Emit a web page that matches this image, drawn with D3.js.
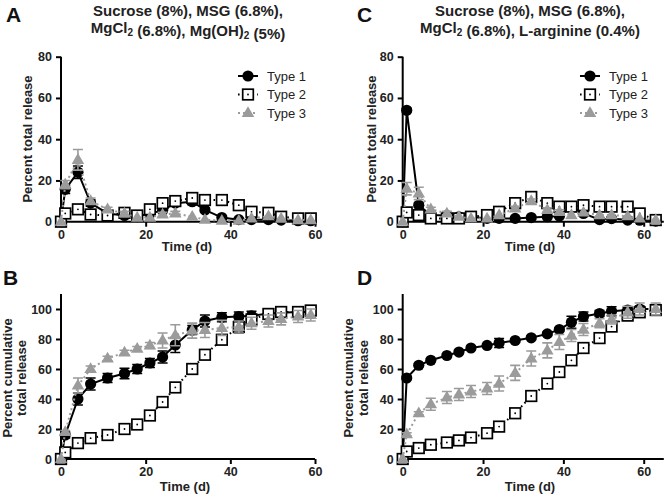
<!DOCTYPE html>
<html><head><meta charset="utf-8">
<script src="https://cdn.jsdelivr.net/npm/d3@7"></script>
<style>
body{margin:0;background:#fff;}
svg{display:block;font-family:"Liberation Sans",Arial,sans-serif;}
</style></head>
<body><svg id="c" width="664" height="498"></svg>
<script>
// ---------- DATA ----------
const timeAB = [0,1,4,7,11,15,18,21,24,27,31,34,38,42,45,49,52,56,59];
const timeCD = [0,1,4,7,11,14,17,21,24,28,32,36,39,42,45,49,52,56,59,63];
const seriesNames = ["Type 1","Type 2","Type 3"];

const type1A = [0,15.7,24,9,4,3,2.5,4,5.5,9,9.7,5.7,2,1,1,1,0.8,0.5,0.5];
const type1AErr = [0,2,3,1.5,1,1,0.5,1,1,1.5,1.5,1,0.5,0.5,0.5,0.5,0.5,0.5,0.5];
const type2A = [0,4,6,3.5,3,4.3,3,6,9,10,11.5,10.5,10.5,8,4.8,4.3,2.4,1.6,1.6];
const type2AErr = [0,0.5,0.5,0.5,0.5,0.5,0.5,0.5,0.5,0.5,0.5,0.5,0.5,0.5,0.5,0.5,0.5,0.5,0.5];
const type3A = [0,18,30,10,6,4,2,2,3.5,4,2.4,1,0.5,0.5,1.6,2.7,1.5,0.8,0.8];
const type3AErr = [0,2,5,1.5,1,1,0.5,0.5,1,1,0.5,0.5,0.5,0.5,0.5,0.5,0.5,0.5,0.5];

const type1B = [0,16,40,50,54,57,60,64,68,76,86,92,94.5,95,95.5,97,97.5,98,98];
const type1BErr = [0,2,4,4,3,3.5,3,3,4,5,3,4,3,3,3,3,3,3,3];
const type2B = [0,4.4,10.6,13.9,16,20,23,29,38,47.7,60,69.5,79.5,88,93,96.7,98,98,99];
const type2BErr = [0,0.5,1,1,1,1,1,1,1,1,1,1,1,4,3,3,3,3,3];
const type3B = [0,18,49,60,67,71,73.5,75.7,79,82.5,85.6,86,87.4,88,90.5,92,93.4,95,96];
const type3BErr = [0,1,5,2,1.5,1.5,1.5,2,5,7,5,5,5,4,4,4,4,4,4];

const type1C = [0,54,8,3.2,3,2.4,2.4,1.6,1.6,1.6,2,2.4,2.7,7,4,1,1.5,0.8,0.7,0.3];
const type1CErr = [0,1,1,0.5,0.5,0.5,0.5,0.5,0.5,0.5,0.5,0.5,0.5,1,1,0.5,0.5,0.5,0.5,0.5];
const type2C = [0,4.5,3.2,1.6,1.6,1.6,2.4,3.2,4.8,9,12,9,7.3,7.3,8,7.3,7.3,7.3,4,0.8];
const type2CErr = [0,0.5,0.5,0.5,0.5,0.5,0.5,0.5,0.5,0.5,0.5,0.5,0.5,0.5,0.5,0.5,0.5,0.5,0.5,0.5];
const type3C = [0,16,13.7,6,4,2.4,1.6,1.6,3.2,6.5,10,5.7,4.8,3.2,4.5,3.2,3.2,2.7,1.6,0.8];
const type3CErr = [0,3,3,1,1,0.5,0.5,0.5,0.5,1,1,1,1,0.5,0.5,0.5,0.5,0.5,0.5,0.5];

const type1D = [0,54,62.5,65.8,69,71.3,74,75.7,77.3,79,80.8,83.4,86.3,91.2,95,97,98.5,99.3,100,100];
const type1DErr = [0,1,1,1,1,1,1,1,3,1,1,1,1,4,3,2,3,2,2,2];
const type2D = [0,5,7.3,9.5,11,12.4,14.3,17.2,21.6,30.5,42,50.3,58,65.8,74,80.6,88.3,95.6,97.8,99.3];
const type2DErr = [0,0.5,0.5,0.5,0.5,0.5,0.5,0.5,0.5,0.5,0.5,0.5,0.5,0.5,0.5,0.5,0.5,3,3,3];
const type3D = [0,16.5,30.5,36.5,41,43,45,47,50.3,57.4,67,72.4,78,82.3,86.3,90.5,93,97.8,100,100];
const type3DErr = [0,1,1,4,4,4,4,4,5,5,5,5,5,4,4,3,3,4,4,4];

const ticksX = [0,20,40,60];
const ticksYTop = [0,20,40,60,80];
const ticksYBottom = [0,20,40,60,80,100];

// ---------- DRAW ----------
const svg = d3.select("#c");
const GRAY = "#9b9b9b";
const styles = [
  {color:"#000", dash:null, shape:"circle"},
  {color:"#000", dash:"1.6,3.2", shape:"square"},
  {color:GRAY, dash:"2,3", shape:"triangle"}
];

function marker(g, shape, x, y){
  if(shape==="circle"){
    g.append("circle").attr("cx",x).attr("cy",y).attr("r",5.6).attr("fill","#000");
  } else if(shape==="square"){
    g.append("rect").attr("x",x-5.3).attr("y",y-5.3).attr("width",10.6).attr("height",10.6)
      .attr("fill","#fff").attr("stroke","#000").attr("stroke-width",1.7);
    g.append("circle").attr("cx",x).attr("cy",y).attr("r",0.9).attr("fill","#000");
  } else {
    g.append("path").attr("d",d3.symbol(d3.symbolTriangle,68)())
      .attr("transform",`translate(${x},${y+0.5})`).attr("fill",GRAY);
  }
}

function panel(cfg){
  const x = d3.scaleLinear().domain(cfg.xDomain).range(cfg.xRange);
  const y = d3.scaleLinear().domain(cfg.yDomain).range(cfg.yRange);
  const g = svg.append("g");

  const ax = g.append("g").attr("transform",`translate(0,${cfg.yRange[0]})`)
    .call(d3.axisBottom(x).tickValues(ticksX).tickSize(5).tickPadding(3));
  const ay = g.append("g").attr("transform",`translate(${cfg.xRange[0]},0)`)
    .call(d3.axisLeft(y).tickValues(cfg.yTicks).tickSize(5).tickPadding(4));
  [ax,ay].forEach(a=>{
    a.select(".domain").attr("stroke","#000").attr("stroke-width",2);
    a.selectAll(".tick line").attr("stroke","#000").attr("stroke-width",2);
    a.selectAll(".tick text").attr("fill","#222").attr("font-size",12.5).attr("font-weight","bold")
      .attr("font-family","'Liberation Sans',Arial,sans-serif");
  });
  ax.select(".domain").attr("d",`M${cfg.xRange[0]},0H${cfg.xRange[1]}`);
  ay.select(".domain").attr("d",`M0,${cfg.yRange[0]}V${cfg.yRange[1]}`);

  cfg.series.forEach((s,i)=>{
    const st = styles[i];
    const sg = g.append("g");
    const pts = cfg.time.map((t,k)=>({t, v:s.v[k], e:s.e[k]}));
    pts.forEach(p=>{
      if(p.e<=0.6) return;
      const px = x(p.t), y1=y(p.v+p.e), y2=y(p.v-p.e);
      sg.append("path").attr("d",`M${px},${y1}V${y2}M${px-5},${y1}H${px+5}M${px-5},${y2}H${px+5}`)
        .attr("stroke",st.color).attr("stroke-width",1.6).attr("fill","none");
    });
    const line = d3.line().x(p=>x(p.t)).y(p=>y(p.v));
    sg.append("path").attr("d",line(pts)).attr("fill","none").attr("stroke",st.color)
      .attr("stroke-width",2).attr("stroke-dasharray",st.dash);
    pts.forEach(p=>marker(sg,st.shape,x(p.t),y(p.v)));
  });

  const yt = g.append("text").attr("transform",`translate(${cfg.yTitleX},${cfg.yTitleY}) rotate(-90)`)
    .attr("text-anchor","middle").attr("font-size",13).attr("font-weight","bold").attr("fill","#222");
  cfg.yTitle.forEach((line,k)=>{
    yt.append("tspan").attr("x",0).attr("dy",k===0?0:14.5).text(line);
  });
  g.append("text").attr("x",cfg.xTitleX).attr("y",cfg.xTitleY).attr("text-anchor","middle")
    .attr("font-size",13).attr("font-weight","bold").attr("fill","#222").text("Time (d)");
  g.append("text").attr("x",cfg.letterX).attr("y",cfg.letterY).attr("font-size",21)
    .attr("font-weight","bold").attr("fill","#111").text(cfg.letter);

  if(cfg.legend){
    seriesNames.forEach((n,i)=>{
      const st = styles[i];
      const ly = cfg.legend.y + i*18.5;
      const lx = cfg.legend.x;
      g.append("path").attr("d",`M${lx-10},${ly}H${lx+10}`).attr("stroke",st.color)
        .attr("stroke-width",2).attr("stroke-dasharray",st.dash);
      marker(g,st.shape,lx,ly);
      g.append("text").attr("x",lx+19).attr("y",ly+4.5).attr("font-size",13)
        .attr("fill","#222").text(n);
    });
  }
}

function title(cx, parts1, parts2){
  svg.append("text").attr("text-anchor","middle").attr("font-size",15)
    .attr("font-weight","bold").attr("fill","#222").attr("x",cx).attr("y",15.5).text(parts1);
  const l2 = svg.append("text").attr("text-anchor","middle").attr("font-size",15)
    .attr("font-weight","bold").attr("fill","#222").attr("x",cx).attr("y",33);
  parts2.forEach(p=>{
    if(p.sub){
      l2.append("tspan").attr("font-size",10).attr("dy",3).text(p.t);
      l2.append("tspan").attr("dy",-3).text("");
    } else l2.append("tspan").text(p.t);
  });
}

title(188, "Sucrose (8%), MSG (6.8%),",
  [{t:"MgCl"},{t:"2",sub:true},{t:" (6.8%), Mg(OH)"},{t:"2",sub:true},{t:" (5%)"}]);
title(530, "Sucrose (8%), MSG (6.8%),",
  [{t:"MgCl"},{t:"2",sub:true},{t:" (6.8%), L-arginine (0.4%)"}]);

panel({letter:"A", letterX:6, letterY:22, time:timeAB, xDomain:[0,60], xRange:[61,315],
  yDomain:[0,80], yRange:[221.7,56.7], yTicks:ticksYTop,
  yTitle:["Percent total release"], yTitleX:32, yTitleY:139, xTitleX:187, xTitleY:251,
  legend:{x:248, y:76},
  series:[{v:type1A,e:type1AErr},{v:type2A,e:type2AErr},{v:type3A,e:type3AErr}]});
panel({letter:"C", letterX:357, letterY:22, time:timeCD, xDomain:[0,65], xRange:[402.7,663.8],
  yDomain:[0,80], yRange:[221.7,56.7], yTicks:ticksYTop,
  yTitle:["Percent total release"], yTitleX:376, yTitleY:139, xTitleX:530, xTitleY:251,
  legend:{x:590, y:76},
  series:[{v:type1C,e:type1CErr},{v:type2C,e:type2CErr},{v:type3C,e:type3CErr}]});
panel({letter:"B", letterX:3, letterY:285, time:timeAB, xDomain:[0,60], xRange:[61,315],
  yDomain:[0,110], yRange:[459,294], yTicks:ticksYBottom,
  yTitle:["Percent cumulative","total release"], yTitleX:11.5, yTitleY:378, xTitleX:185, xTitleY:491,
  series:[{v:type1B,e:type1BErr},{v:type2B,e:type2BErr},{v:type3B,e:type3BErr}]});
panel({letter:"D", letterX:357, letterY:285, time:timeCD, xDomain:[0,65], xRange:[402.7,663.8],
  yDomain:[0,110], yRange:[459,294], yTicks:ticksYBottom,
  yTitle:["Percent cumulative","total release"], yTitleX:353, yTitleY:378, xTitleX:530, xTitleY:491,
  series:[{v:type1D,e:type1DErr},{v:type2D,e:type2DErr},{v:type3D,e:type3DErr}]});
</script></body></html>
